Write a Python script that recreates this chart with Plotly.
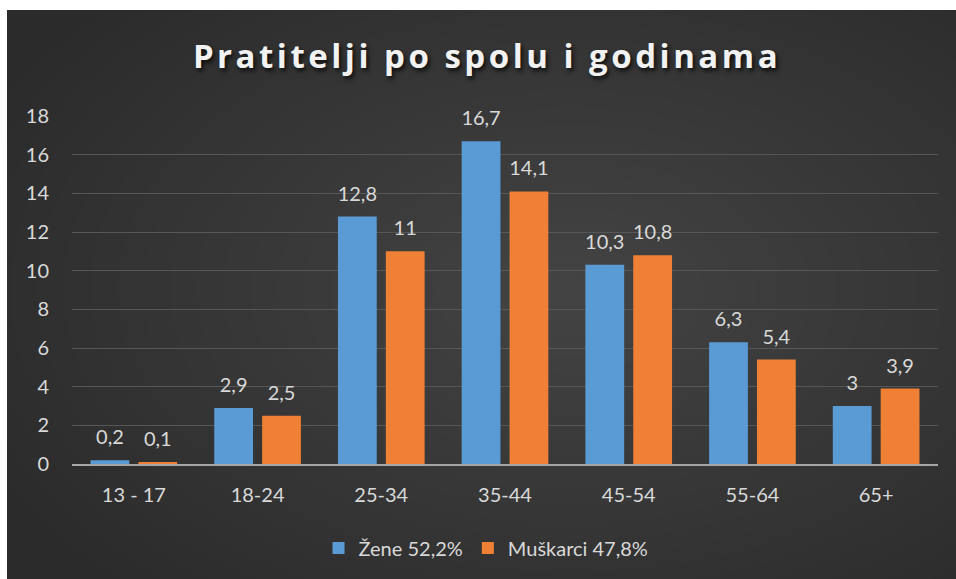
import plotly.graph_objects as go

categories = ["13 - 17", "18-24", "25-34", "35-44", "45-54", "55-64", "65+"]
zene = [0.2, 2.9, 12.8, 16.7, 10.3, 6.3, 3.0]
muskarci = [0.1, 2.5, 11.0, 14.1, 10.8, 5.4, 3.9]
series_names = ["Žene 52,2%", "Muškarci 47,8%"]
title_text = "Pratitelji po spolu i godinama"
y_ticks = [0, 2, 4, 6, 8, 10, 12, 14, 16, 18]

W, H = 956, 579
L, R, T, B = 72, 18, 116, 115
PW, PH = W - L - R, H - T - B

def fx(px):
    return (px - L) / PW

def fy(py):
    return (H - B - py) / PH

def fmt(v):
    return ("%g" % v).replace(".", ",")

BLUE = "#5b9bd5"
ORANGE = "#ef8035"
TXT = "#d9d9d9"
FONT = "Lato"

fig = go.Figure()
for name, vals, col in [(series_names[0], zene, BLUE), (series_names[1], muskarci, ORANGE)]:
    fig.add_trace(go.Bar(x=categories, y=vals, name=name, marker=dict(color=col, line=dict(width=0))))
for vals in [zene, muskarci]:
    fig.add_trace(go.Scatter(
        x=categories, y=vals, mode="markers+text", text=[fmt(v) for v in vals],
        textposition="top center", textfont=dict(size=20, color=TXT, family=FONT),
        marker=dict(size=16, color="rgba(0,0,0,0)"), showlegend=False, hoverinfo="skip",
        cliponaxis=False))

shapes = []
cx, cy = 570, 290
N = 24
for i in range(N):
    rx = 640 - i * 640 / N
    ry = 400 - i * 400 / N
    shapes.append(dict(type="circle", xref="paper", yref="paper",
                       x0=fx(cx - rx), x1=fx(cx + rx), y0=fy(cy + ry), y1=fy(cy - ry),
                       fillcolor="rgba(255,255,255,0.0085)", line=dict(width=0), layer="below"))
# white page margin strips (left and top)
shapes.append(dict(type="rect", xref="paper", yref="paper", x0=fx(-20), x1=fx(7), y0=fy(620), y1=fy(-20),
                   fillcolor="white", line=dict(width=0), layer="below"))
shapes.append(dict(type="rect", xref="paper", yref="paper", x0=fx(-20), x1=fx(990), y0=fy(10), y1=fy(-20),
                   fillcolor="white", line=dict(width=0), layer="below"))

fig.update_layout(
    width=W, height=H,
    margin=dict(l=L, r=R, t=T, b=B),
    paper_bgcolor="#2b2b2b", plot_bgcolor="rgba(0,0,0,0)",
    barmode="group", bargap=0.226, bargroupgap=0.19,
    scattermode="group", scattergap=0.226,
    shapes=shapes,
    title=dict(text='<span style="letter-spacing:3.5px">' + title_text + '</span>',
               x=fx(487), xref="paper", xanchor="center", y=1 - 56 / H, yanchor="middle",
               font=dict(family="Open Sans", size=33, color="#f2f2f2", weight="bold",
                         shadow="2px 3px 4px rgba(0,0,0,0.75)")),
    font=dict(family=FONT, color=TXT, size=20),
    legend=dict(orientation="h", x=fx(486), xanchor="center", y=fy(548), yanchor="middle",
                font=dict(size=20, color=TXT, family=FONT), bgcolor="rgba(0,0,0,0)",
                itemwidth=30, traceorder="normal"),
    xaxis=dict(showgrid=False, showline=True, linecolor="#a6a6a6", linewidth=2,
               tickfont=dict(size=20, color=TXT), ticks="", ticklabelstandoff=12, zeroline=False),
    yaxis=dict(range=[0, 18], tickvals=y_ticks, showgrid=True, gridcolor="#575757", gridwidth=1,
               zeroline=False, showline=False, tickfont=dict(size=20, color=TXT), ticks="",
               ticklabelstandoff=22),
    showlegend=True,
)
fig.write_html("out.html", config={"displayModeBar": False},
               post_script="document.body.style.margin='0';document.body.style.overflow='hidden';")
